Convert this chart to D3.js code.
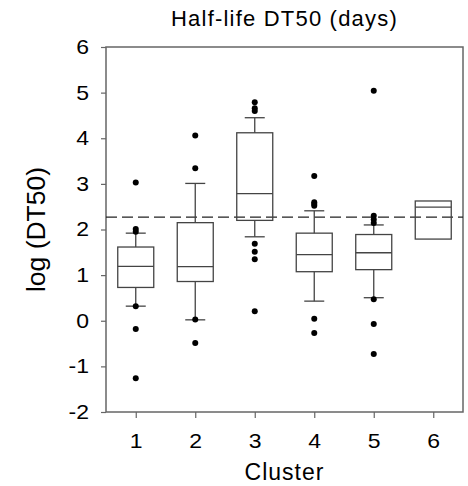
<!DOCTYPE html>
<html>
<head>
<meta charset="utf-8">
<script src="https://cdn.jsdelivr.net/npm/d3@7"></script>
<style>
  html, body { margin: 0; padding: 0; background: #fff; }
  text { font-family: "Liberation Sans", Arial, sans-serif; fill: #000; }
</style>
</head>
<body>
<svg id="chart" width="468" height="486"></svg>
<script>
const clusters = [1, 2, 3, 4, 5, 6];
const q1 = [0.73, 0.86, 2.20, 1.075, 1.12, 1.79];
const medians = [1.19, 1.185, 2.785, 1.45, 1.49, 2.49];
const q3 = [1.616, 2.15, 4.12, 1.92, 1.89, 2.625];
const whiskerLow = [0.32, 0.02, 1.84, 0.43, 0.505, null];
const whiskerHigh = [1.92, 3.01, 4.45, 2.41, 2.10, null];
const outliers = [
  [3.03, 2.01, 1.95, 0.32, -0.18, -1.26],
  [4.06, 3.34, 0.03, -0.49],
  [4.79, 4.66, 4.60, 1.69, 1.51, 1.35, 0.21],
  [3.17, 2.60, 2.56, 2.52, 0.045, -0.27],
  [5.04, 2.30, 2.22, 2.14, 0.47, -0.07, -0.73],
  []
];
const referenceLine = 2.27;
const yTicks = [-2, -1, 0, 1, 2, 3, 4, 5, 6];
const title = "Half-life DT50 (days)";
const xTitle = "Cluster";
const yTitle = "log (DT50)";

const svg = d3.select("#chart");
const L = 106, R = 463, T = 47, B = 412;
const x = d3.scaleLinear().domain([0.5, 6.5]).range([L, R]);
const y = d3.scaleLinear().domain([-2, 6]).range([B, T]);
const boxW = 36, capW = 20;
const lineCol = "#444";
const stretch = 1.15;

// frame
svg.append("rect").attr("x", L).attr("y", T).attr("width", R - L).attr("height", B - T)
  .attr("fill", "none").attr("stroke", "#666").attr("stroke-width", 1.5);

// axes
const yAxis = svg.append("g").attr("transform", `translate(${L},0)`)
  .call(d3.axisLeft(y).tickValues(yTicks).tickSize(5).tickPadding(12).tickFormat(d => String(d)));
const xAxis = svg.append("g").attr("transform", `translate(0,${B})`)
  .call(d3.axisBottom(x).tickValues(clusters).tickSize(6).tickPadding(16).tickFormat(d => String(d)));
[yAxis, xAxis].forEach(a => {
  a.select(".domain").remove();
  a.selectAll(".tick line").attr("stroke", "#666").attr("stroke-width", 1.2);
  a.selectAll(".tick text").attr("font-size", 20).attr("fill", "#000")
    .style("font-family", '"Liberation Sans", Arial, sans-serif')
    .each(function () {
      const t = d3.select(this);
      const x0 = +t.attr("x") || 0;
      t.attr("x", x0 / stretch).attr("transform", `scale(${stretch},1)`);
    });
});

// reference line
svg.append("line").attr("x1", L).attr("x2", R).attr("y1", y(referenceLine)).attr("y2", y(referenceLine))
  .attr("stroke", "#222").attr("stroke-width", 1.2).attr("stroke-dasharray", "11,5");

// boxes
const g = svg.append("g");
clusters.forEach((c, i) => {
  const cx = x(c);
  if (whiskerHigh[i] != null) {
    g.append("line").attr("x1", cx).attr("x2", cx).attr("y1", y(q3[i])).attr("y2", y(whiskerHigh[i]))
      .attr("stroke", lineCol).attr("stroke-width", 1.3);
    g.append("line").attr("x1", cx - capW / 2).attr("x2", cx + capW / 2).attr("y1", y(whiskerHigh[i])).attr("y2", y(whiskerHigh[i]))
      .attr("stroke", lineCol).attr("stroke-width", 1.3);
  }
  if (whiskerLow[i] != null) {
    g.append("line").attr("x1", cx).attr("x2", cx).attr("y1", y(q1[i])).attr("y2", y(whiskerLow[i]))
      .attr("stroke", lineCol).attr("stroke-width", 1.3);
    g.append("line").attr("x1", cx - capW / 2).attr("x2", cx + capW / 2).attr("y1", y(whiskerLow[i])).attr("y2", y(whiskerLow[i]))
      .attr("stroke", lineCol).attr("stroke-width", 1.3);
  }
  g.append("rect").attr("x", cx - boxW / 2).attr("width", boxW)
    .attr("y", y(q3[i])).attr("height", y(q1[i]) - y(q3[i]))
    .attr("fill", "none").attr("stroke", lineCol).attr("stroke-width", 1.3);
  g.append("line").attr("x1", cx - boxW / 2).attr("x2", cx + boxW / 2).attr("y1", y(medians[i])).attr("y2", y(medians[i]))
    .attr("stroke", lineCol).attr("stroke-width", 1.3);
  g.selectAll(null).data(outliers[i]).enter().append("circle")
    .attr("cx", cx).attr("cy", d => y(d)).attr("r", 3).attr("fill", "#000");
});

// titles
svg.append("text").attr("x", (L + R) / 2).attr("y", 26).attr("text-anchor", "middle")
  .attr("font-size", 22).attr("letter-spacing", 1.2).text(title);
svg.append("text").attr("x", (L + R) / 2).attr("y", 480).attr("text-anchor", "middle")
  .attr("font-size", 23).attr("letter-spacing", 1).text(xTitle);
svg.append("text").attr("transform", `translate(45,${(T + B) / 2}) rotate(-90)`).attr("text-anchor", "middle")
  .attr("font-size", 26.5).text(yTitle);
</script>
</body>
</html>
